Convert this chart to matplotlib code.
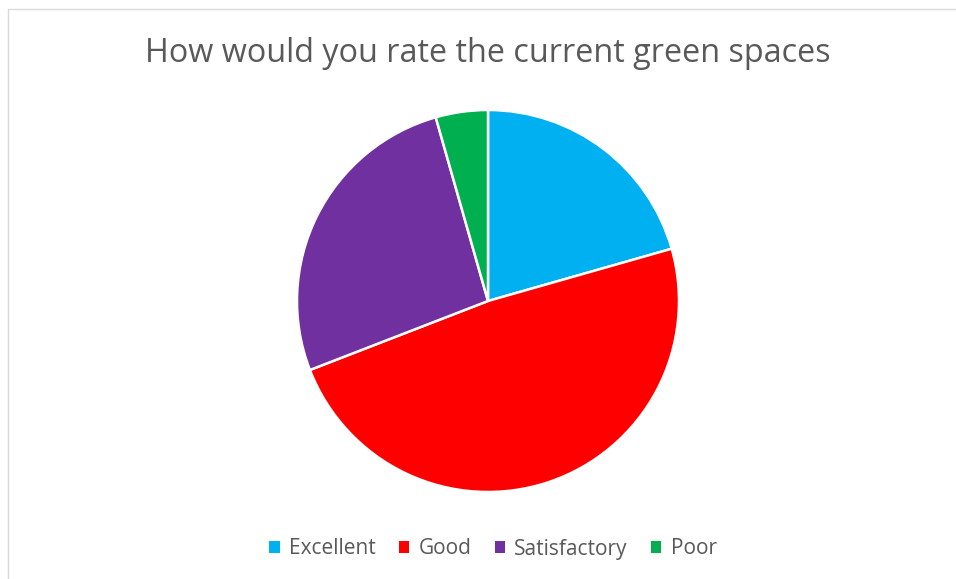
import matplotlib
matplotlib.use("Agg")
import matplotlib.pyplot as plt
from matplotlib.patches import Rectangle, Patch

categories = ["Excellent", "Good", "Satisfactory", "Poor"]
values = [14, 33, 18, 3]
colors = ["#00B0F0", "#FF0000", "#7030A0", "#00B050"]
title = "How would you rate the current green spaces"

plt.rcParams['font.family'] = ['Open Sans', 'DejaVu Sans']

W, H = 956, 579
fig = plt.figure(figsize=(W / 100, H / 100), dpi=100)
fig.patch.set_facecolor("white")

# chart frame
fig.patches.append(Rectangle((7.5 / W, -0.1), 1.2, 1 - 9.5 / H + 0.1,
                             transform=fig.transFigure, fill=False,
                             edgecolor="#D9D9D9", linewidth=1.0))

cx, cy, r = 488, 301, 191
ax = fig.add_axes([(cx - r) / W, (H - cy - r) / H, 2 * r / W, 2 * r / H])
ax.pie(values, colors=colors, startangle=90, counterclock=False,
       wedgeprops=dict(edgecolor="white", linewidth=1.8), radius=1.0)
ax.set_xlim(-1, 1)
ax.set_ylim(-1, 1)
ax.set_aspect("equal")
ax.axis("off")

fig.text(488 / W, 1 - 54 / H, title, ha="center", va="center",
         fontsize=23.3, color="#595959")

handles = [Patch(facecolor=c, edgecolor="none") for c in colors]
fig.legend(handles, categories, loc="center", bbox_to_anchor=(493 / W, 1 - 549 / H),
           ncol=4, frameon=False, fontsize=15, labelcolor="#595959",
           handlelength=0.5, handleheight=0.5, handletextpad=0.45,
           columnspacing=1.1)

fig.savefig("out.png", dpi=100, facecolor="white")
